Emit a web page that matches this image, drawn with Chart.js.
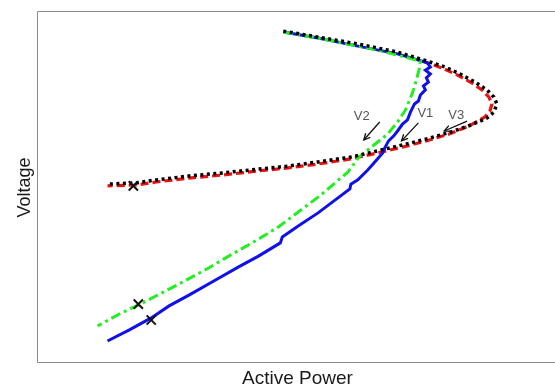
<!DOCTYPE html>
<html><head><meta charset="utf-8">
<script src="https://cdn.jsdelivr.net/npm/chart.js@4/dist/chart.umd.min.js"></script>
<style>html,body{margin:0;padding:0;background:#fff;overflow:hidden;width:555px;height:385px}canvas{display:block}</style>
</head><body><canvas id="c" width="562" height="385" style="width:562px;height:385px"></canvas>
<script>
// Series (Active Power, Voltage) in arbitrary units
const v1P = [49.6,56.6,64.6,72.6,78.6,79.2,78.2,79.2,78.4,78.8,77.8,78.2,77.2,76.8,76,75.2,74.6,73.6,72.6,71.8,70.8,70,69.6,68.2,66.6,64.6,63.2,63,60.6,56.6,52.6,49.4,49,44.6,40.6,35.6,30.6,26.6,23,18.6,14.2];
const v1V = [110,108,105.3,102.7,99.7,98.3,97.3,96,94.7,93.3,92,90.7,89,87,86,83.3,80.7,79.3,77,75.3,73.7,71.3,69.7,67,64,60.7,59.3,57.7,54.7,49.7,45.3,41.7,39.7,35.3,31.7,27,22.3,18.7,14.7,10.7,7];
const v2P = [49.6,58.6,68.6,77.2,77,76.4,75.6,74.2,72.6,70.6,67.6,64.8,62.6,60.2,57.2,52.6,48.6,43.6,38.6,34.2,28.6,20.8,16.6,12.2];
const v2V = [110,107.3,104,100.3,98,94,89.7,84,80,76,72,68.3,63.3,60,55.7,50,45,40,35.3,31,26,19.3,16,12];
const v3P = [77.6,81.6,84.6,87.6,89.6,91,91.6,91.2,90.2,87,83,79,75.2,69.4,63.2,56.6,50.6,44.6,37.2,30.6,24,20,14.2];
const v3V = [100.3,98,95.7,93,90.7,88.3,86,83.7,81.7,78.7,76,74,72.3,70,67.7,66,64.7,63.7,62.3,61.3,60,59,58.7];
const pvP = [49.6,56.6,64.6,72.6,78.6,82.2,85.2,88.2,90.6,92,92.6,92,90.6,87.4,83.4,79.2,75.2,69.4,63.2,56.6,50.6,44.6,37.2,30.6,24,20,14.2];
const pvV = [110.3,108.3,106,103.3,100.3,98.3,96,93.3,90.7,88.3,86,83.3,81.3,79,76.7,74.7,73,70.7,68.3,66.7,65.3,64.3,63,62,60.7,59.7,59.3];
const markP = [19.4,20.4,23];
const markV = [58.7,19.3,14];
// annotation labels and arrows (tail -> head)
const labels = ['V2','V1','V3'];
const labelP = [65.4,78.2,84.4];
const labelV = [82,82.7,82.3];
const arrowFromP = [69,76.8,86.6], arrowFromV = [80,79.7,80.3];
const arrowToP = [65.8,73.4,82], arrowToV = [74,73.7,77];
const xTitle = 'Active Power', yTitle = 'Voltage';

const zip = (a,b) => a.map((x,i)=>({x, y:b[i]}));

const deco = {
  id:'deco',
  afterDraw(chart){
    const {ctx, chartArea:a, scales:{x,y}} = chart;
    ctx.save();
    ctx.strokeStyle = '#8a8a8a'; ctx.lineWidth = 1;
    ctx.beginPath();
    ctx.moveTo(a.right+5, a.top+0.5); ctx.lineTo(a.left+0.5, a.top+0.5);
    ctx.lineTo(a.left+0.5, a.bottom+0.5); ctx.lineTo(a.right+5, a.bottom+0.5);
    ctx.stroke();
    // annotation labels
    ctx.fillStyle = '#555'; ctx.font = '13px "Liberation Sans", Arial, sans-serif';
    ctx.textAlign = 'center'; ctx.textBaseline = 'middle';
    labels.forEach((t,i)=>ctx.fillText(t, x.getPixelForValue(labelP[i]), y.getPixelForValue(labelV[i])));
    // arrows
    ctx.strokeStyle = '#111'; ctx.lineWidth = 1.3;
    for (let i=0;i<arrowFromP.length;i++){
      const x0=x.getPixelForValue(arrowFromP[i]), y0=y.getPixelForValue(arrowFromV[i]);
      const x1=x.getPixelForValue(arrowToP[i]), y1=y.getPixelForValue(arrowToV[i]);
      const ang=Math.atan2(y1-y0,x1-x0), L=7;
      ctx.beginPath(); ctx.moveTo(x0,y0); ctx.lineTo(x1,y1); ctx.stroke();
      ctx.beginPath();
      ctx.moveTo(x1-L*Math.cos(ang-0.45), y1-L*Math.sin(ang-0.45));
      ctx.lineTo(x1,y1);
      ctx.lineTo(x1-L*Math.cos(ang+0.45), y1-L*Math.sin(ang+0.45));
      ctx.stroke();
    }
    // axis titles
    ctx.fillStyle = '#1a1a1a'; ctx.font = '19px "Liberation Sans", Arial, sans-serif';
    ctx.textAlign='center'; ctx.textBaseline='alphabetic';
    ctx.fillText(xTitle, 297.5, 384);
    ctx.font = '18px "Liberation Sans", Arial, sans-serif';
    ctx.translate(30, (a.top+a.bottom)/2 + 1);
    ctx.rotate(-Math.PI/2);
    ctx.fillText(yTitle, 0, 0);
    ctx.restore();
  }
};

new Chart(document.getElementById('c'), {
  type:'scatter',
  data:{datasets:[
    {label:'marks', data:zip(markP,markV), pointStyle:'crossRot', pointRadius:6.5, borderColor:'#111', borderWidth:2, showLine:false},
    {label:'PV', data:zip(pvP,pvV), showLine:true, borderColor:'#000', borderWidth:3.5, borderDash:[3,3.5], pointRadius:0, tension:0},
    {label:'V2', data:zip(v2P,v2V), showLine:true, borderColor:'#22ee22', borderWidth:3, borderDash:[10,4,3,4], pointRadius:0, tension:0},
    {label:'V1', data:zip(v1P,v1V), showLine:true, borderColor:'#1010e8', borderWidth:3, pointRadius:0, tension:0},
    {label:'V3', data:zip(v3P,v3V), showLine:true, borderColor:'#ee1111', borderWidth:3.2, borderDash:[8,4], pointRadius:0, tension:0}
  ]},
  options:{
    responsive:false, animation:false, devicePixelRatio:1,
    layout:{padding:{left:37,top:11,bottom:23,right:5}},
    plugins:{legend:{display:false}, tooltip:{enabled:false}},
    scales:{
      x:{type:'linear', min:0, max:104, display:false},
      y:{type:'linear', min:0, max:117, display:false}
    }
  },
  plugins:[deco]
});
</script></body></html>
